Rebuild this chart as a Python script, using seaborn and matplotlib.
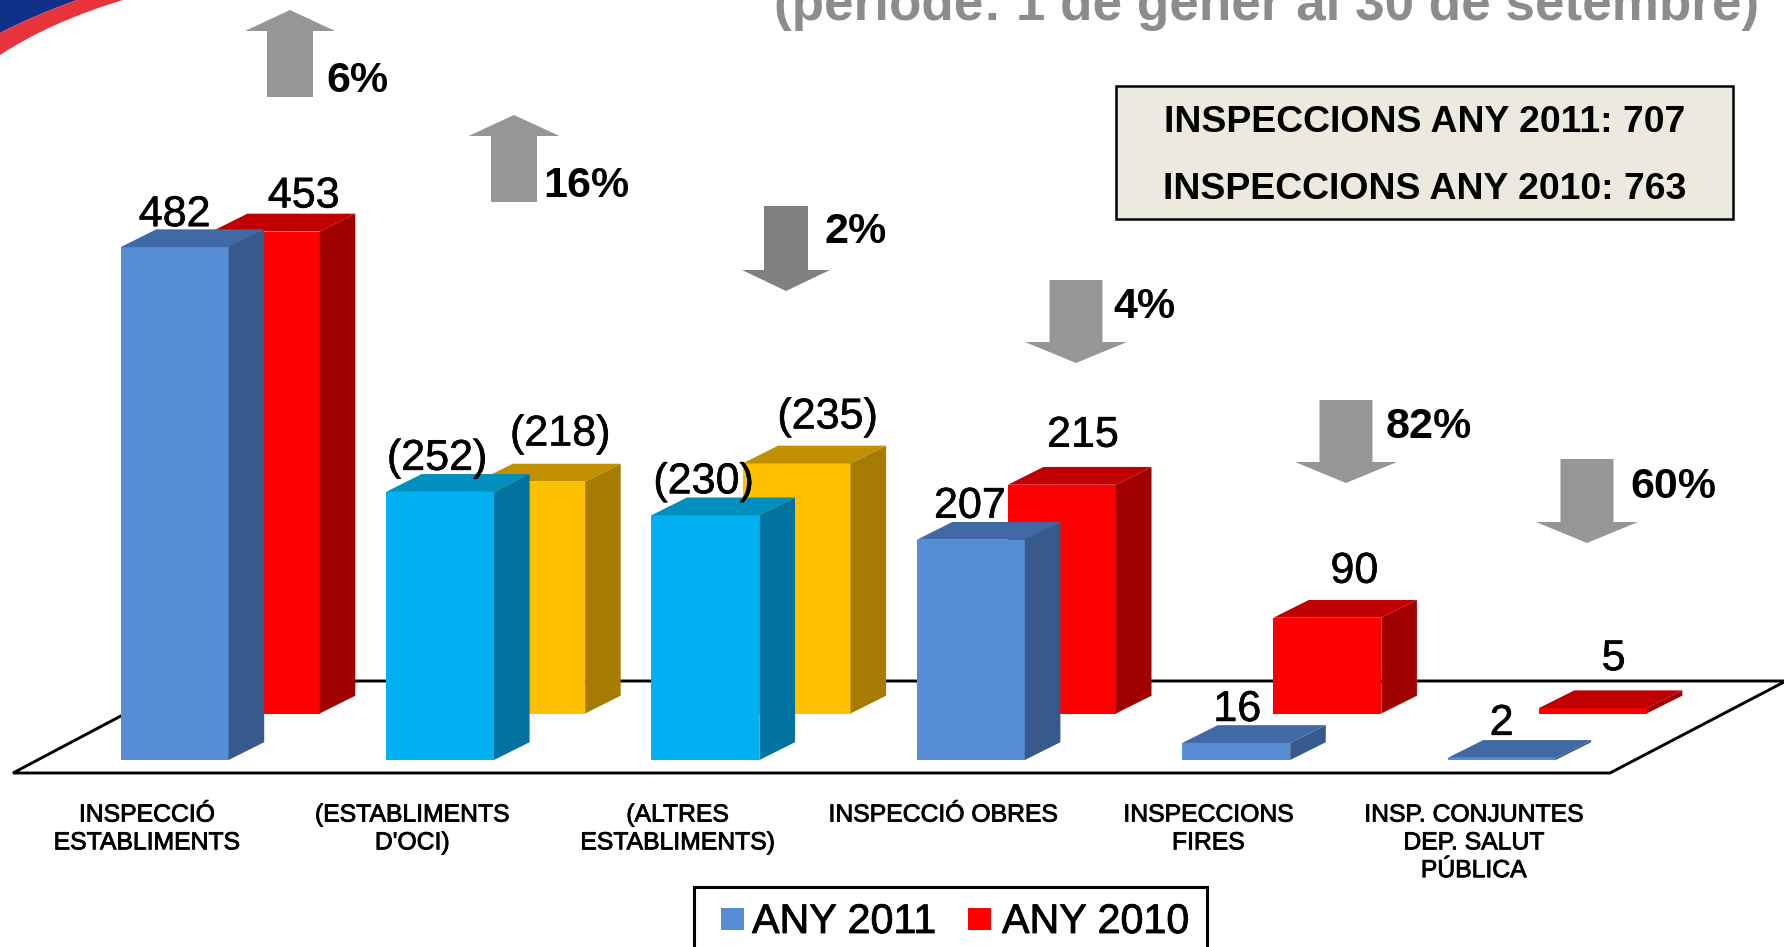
import matplotlib
matplotlib.use("Agg")
import matplotlib.pyplot as plt
import matplotlib.patheffects as pe
import seaborn as sns
from matplotlib.patches import PathPatch, Polygon, Rectangle
from matplotlib.path import Path

# values
categories = ["INSPECCIÓ\nESTABLIMENTS", "(ESTABLIMENTS\nD'OCI)", "(ALTRES\nESTABLIMENTS)",
              "INSPECCIÓ OBRES", "INSPECCIONS\nFIRES", "INSP. CONJUNTES\nDEP. SALUT\nPÚBLICA"]
values_2011 = [482, 252, 230, 207, 16, 2]
values_2010 = [453, 218, 235, 215, 90, 5]
labels_2011 = ["482", "(252)", "(230)", "207", "16", "2"]
labels_2010 = ["453", "(218)", "(235)", "215", "90", "5"]
changes = ["6%", "16%", "2%", "4%", "82%", "60%"]
directions = ["up", "up", "down", "down", "down", "down"]
legend_names = ["ANY 2011", "ANY 2010"]
total_lines = ["INSPECCIONS ANY 2011: 707", "INSPECCIONS ANY 2010: 763"]
title_text = "(període: 1 de gener al 30 de setembre)"

W, H = 1784, 947
sns.set_theme(style="white")
plt.rcParams["font.family"] = ["Liberation Sans", "DejaVu Sans"]
fig = plt.figure(figsize=(W / 100, H / 100), dpi=100, facecolor="white")

# colours per bar: front, side, top
blue = ("#558ED5", "#38598C", "#4169A5")
cyan = ("#00B0F0", "#0073A0", "#008FBF")
red = ("#FF0000", "#A00000", "#C00000")
yellow = ("#FFC000", "#A67C00", "#C09000")
colors_2011 = [blue, cyan, cyan, blue, blue, blue]
colors_2010 = [red, yellow, yellow, red, red, red]

PX_PER_CAT = 265.4
PX_PER_UNIT = 1.064
BAR_W = 108 / PX_PER_CAT
DEPTH_X = 35.6 / PX_PER_CAT
DEPTH_Y = 17.8 / PX_PER_UNIT
heavy = [pe.withStroke(linewidth=0.6, foreground="black")]


def draw_bars(first_center_px, base_px, zorder, values, colors, texts, offsets):
    ax = fig.add_axes([0, 0, 1, 1], zorder=zorder)
    sns.barplot(x=categories, y=values, hue=categories, palette=[c[0] for c in colors],
                legend=False, dodge=False, width=BAR_W, saturation=1, linewidth=0, edgecolor="none", ax=ax)
    ax.set_xlim(-first_center_px / PX_PER_CAT, (W - first_center_px) / PX_PER_CAT)
    ax.set_ylim(-(H - base_px) / PX_PER_UNIT, base_px / PX_PER_UNIT)
    ax.axis("off")
    # fake 3d: side and top faces are built from the bars seaborn just drew
    for bar, c in zip(ax.patches, colors):
        x0 = bar.get_x()
        x1 = x0 + bar.get_width()
        top = bar.get_height()
        ax.add_patch(Polygon([(x1, 0), (x1 + DEPTH_X, DEPTH_Y), (x1 + DEPTH_X, top + DEPTH_Y), (x1, top)],
                             facecolor=c[1], edgecolor="none"))
        ax.add_patch(Polygon([(x0, top), (x1, top), (x1 + DEPTH_X, top + DEPTH_Y), (x0 + DEPTH_X, top + DEPTH_Y)],
                             facecolor=c[2], edgecolor="none"))
    for i, (v, t, off) in enumerate(zip(values, texts, offsets)):
        ax.annotate(t, (i, v), xytext=off, textcoords="offset pixels", ha="center", va="baseline",
                    fontsize=31, color="black", annotation_clip=False,
                    path_effects=[pe.withStroke(linewidth=0.4, foreground="black")])
    return ax


# floor of the fake 3d chart, behind the bars
floor_ax = fig.add_axes([0, 0, 1, 1], zorder=0)
floor_ax.set_xlim(0, W)
floor_ax.set_ylim(H, 0)
floor_ax.axis("off")
floor_ax.add_patch(Polygon([(13, 773), (1610, 773), (1786, 681), (187, 681)], closed=True,
                           facecolor="white", edgecolor="black", linewidth=2.1))

offsets_2010 = [(38, 24), (29, 36), (31, 35), (21, 38), (27, 35), (21, 38)]
offsets_2011 = [(0, 21), (-3, 22), (-2, 22), (-1, 22), (1, 22), (0, 23)]
draw_bars(265.7, 713.5, 1, values_2010, colors_2010, labels_2010, offsets_2010)
front_ax = draw_bars(174.6, 760, 2, values_2011, colors_2011, labels_2011, offsets_2011)

# category names under the floor
for i, cat in enumerate(categories):
    front_ax.text(i - 0.105, -40, cat, ha="center", va="top", fontsize=17.8, color="black",
                  multialignment="center", linespacing=1.2, path_effects=heavy)

# everything else is laid out in pixels
over = fig.add_axes([0, 0, 1, 1], zorder=3)
over.set_xlim(0, W)
over.set_ylim(H, 0)
over.axis("off")

# corner swoosh
C3 = Path.CURVE3
over.add_patch(PathPatch(Path([(0, 0), (77, 0), (30, 17), (0, 33), (0, 0)],
                              [Path.MOVETO, Path.LINETO, C3, C3, Path.CLOSEPOLY]),
                         facecolor="#10308A", edgecolor="none"))
over.add_patch(PathPatch(Path([(77, 0), (123, 0), (50, 22), (0, 55), (0, 33), (30, 17), (77, 0), (77, 0)],
                              [Path.MOVETO, Path.LINETO, C3, C3, Path.LINETO, C3, C3, Path.CLOSEPOLY]),
                         facecolor="#E8323C", edgecolor="none"))

over.text(1759, 20, title_text, ha="right", va="baseline", fontsize=38.2, fontweight="bold", color="#8C8C8C")

# change arrows: centre x, top y, bottom y, half shaft, half wings
arrow_boxes = [(290, 10, 97, 23, 45), (514, 115, 202, 23, 45.5), (786, 206, 291, 22, 44),
               (1076, 280, 363, 26.5, 51), (1346, 400, 483, 26.5, 51), (1587, 459, 543, 26.5, 51)]
arrow_colors = ["#969696", "#969696", "#808080", "#969696", "#969696", "#969696"]
change_pos = [(326, 92), (543, 197), (824, 243), (1113, 318), (1386, 438), (1630, 498)]
HEAD = 21
for (cx, y0, y1, shaft, wing), d, col, txt, (tx, ty) in zip(arrow_boxes, directions, arrow_colors, changes, change_pos):
    if d == "up":
        pts = [(cx, y0), (cx + wing, y0 + HEAD), (cx + shaft, y0 + HEAD), (cx + shaft, y1),
               (cx - shaft, y1), (cx - shaft, y0 + HEAD), (cx - wing, y0 + HEAD)]
    else:
        pts = [(cx, y1), (cx + wing, y1 - HEAD), (cx + shaft, y1 - HEAD), (cx + shaft, y0),
               (cx - shaft, y0), (cx - shaft, y1 - HEAD), (cx - wing, y1 - HEAD)]
    over.add_patch(Polygon(pts, facecolor=col, edgecolor="none"))
    over.text(tx, ty, txt, ha="left", va="baseline", fontsize=31, fontweight="bold", color="black")

# totals box
over.add_patch(Rectangle((1116, 86), 617, 133, facecolor="#ECEADF", edgecolor="black", linewidth=1.8))
over.text(1425, 132, total_lines[0], ha="center", va="baseline", fontsize=26.9, fontweight="bold", color="black")
over.text(1425, 199, total_lines[1], ha="center", va="baseline", fontsize=26.9, fontweight="bold", color="black")

# legend box, cut by the bottom of the picture
over.add_patch(Rectangle((694, 887), 513, 80, facecolor="white", edgecolor="black", linewidth=2.2))
over.add_patch(Rectangle((721, 908), 23, 22, facecolor=blue[0], edgecolor="none"))
over.add_patch(Rectangle((968, 908), 23, 22, facecolor=red[0], edgecolor="none"))
over.text(752, 933, legend_names[0], ha="left", va="baseline", fontsize=29.7, color="black", path_effects=heavy)
over.text(1002, 933, legend_names[1], ha="left", va="baseline", fontsize=29.7, color="black", path_effects=heavy)

fig.savefig("out.png", dpi=100)
